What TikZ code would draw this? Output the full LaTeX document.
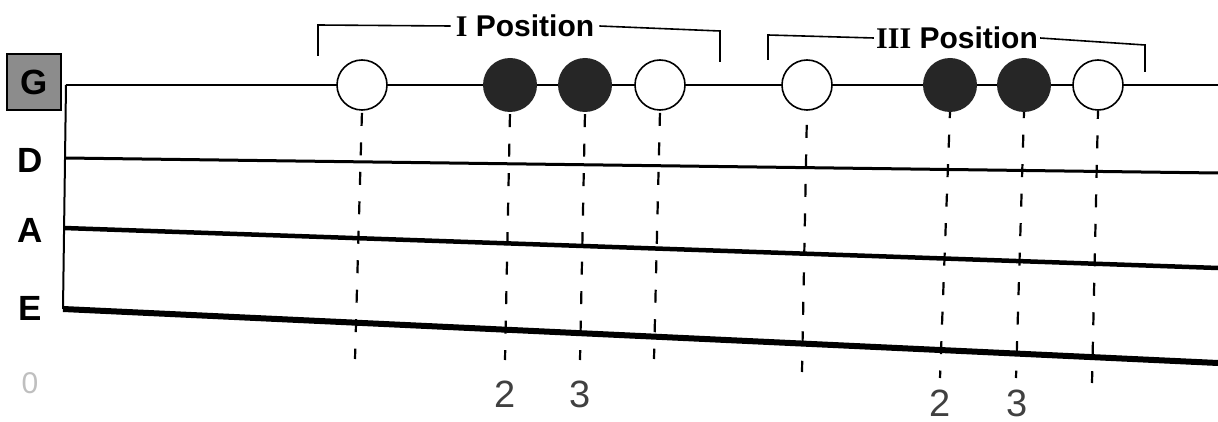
\documentclass[tikz,border=0pt]{standalone}
\usepackage{fontspec}
\setmainfont{Liberation Sans}
\newfontfamily\romfont{Liberation Serif}
\begin{document}
\begin{tikzpicture}[x=1pt,y=-1pt,
  opennote/.style={circle,draw,line width=1.6pt,fill=white,minimum size=50pt,inner sep=0pt},
  fillnote/.style={circle,fill=black!85,minimum size=54pt,inner sep=0pt},
  dashline/.style={line width=2.2pt,dash pattern=on 13pt off 16.5pt,dash phase=#1},
  strlabel/.style={font=\bfseries\fontsize{35}{35}\selectfont,inner sep=0pt},
  fingernum/.style={font=\fontsize{38}{38}\selectfont,text=black!75,inner sep=0pt},
  bracketline/.style={line width=1.6pt},
  postitle/.style={font=\bfseries\fontsize{30}{30}\selectfont,fill=white,inner sep=5pt}]
\useasboundingbox (0,0) rectangle (1218,422);
% strings
\coordinate (G0) at (66,85);   \coordinate (G1) at (1218,85);
\coordinate (D0) at (65,158);  \coordinate (D1) at (1218,173);
\coordinate (A0) at (64,228);  \coordinate (A1) at (1218,268);
\coordinate (E0) at (63,309);  \coordinate (E1) at (1218,363);
\draw[line width=2pt] (G0) -- (G1);
\draw[line width=2pt] (G0) -- (E0);
\draw[line width=3pt] (D0) -- (D1);
\draw[line width=4.5pt] (A0) -- (A1);
\draw[line width=6pt] (E0) -- (E1);
% string labels
\node[draw,line width=2pt,fill=black!45,minimum width=54pt,minimum height=56pt,inner sep=0pt,font=\bfseries\fontsize{35}{35}\selectfont] (lG) at (34,82) {G};
\node[strlabel] (lD) at (30,160) {D};
\node[strlabel] (lA) at (30,230) {A};
\node[strlabel] (lE) at (30,308) {E};
\node[font=\fontsize{30}{30}\selectfont,text=black!25,inner sep=0pt] (l0) at (30,383) {0};
% dashed line end points
\coordinate (e1) at (355,359); \coordinate (e2) at (505,360);
\coordinate (e3) at (580,360); \coordinate (e4) at (654,359);
\coordinate (e5) at (802,372); \coordinate (e6) at (940,378);
\coordinate (e7) at (1016,378); \coordinate (e8) at (1092,383);
% notes
\node[opennote] (n1) at (362,85) {};
\node[fillnote] (n2) at (510,85) {};
\node[fillnote] (n3) at (585,85) {};
\node[opennote] (n4) at (660,85) {};
\node[opennote] (n5) at (807,85) {};
\node[fillnote] (n6) at (950,85) {};
\node[fillnote] (n7) at (1024,85) {};
\node[opennote] (n8) at (1098,85) {};
\foreach \i/\ph in {1/27.5pt,2/27.5pt,3/27.5pt,4/27.5pt,5/15.5pt,6/7pt,7/7pt,8/5pt}
  {\draw[dashline=\ph] (n\i.south) -- (e\i);}
% finger numbers
\node[fingernum] (f1) at (505,394) {2};
\node[fingernum] (f2) at (580,394) {3};
\node[fingernum] (f3) at (940,403) {2};
\node[fingernum] (f4) at (1017,403) {3};
% position brackets
\node[postitle] (t1) at (525,26) {{\romfont I} Position};
\coordinate (b1a) at (318,56); \coordinate (b1b) at (318,25);
\coordinate (b1c) at (720,31); \coordinate (b1d) at (720,62);
\draw[bracketline] (b1a) -- (b1b) -- (t1.west);
\draw[bracketline] (t1.east) -- (b1c) -- (b1d);
\node[postitle,inner sep=2pt] (t2) at (957,38) {{\romfont III} Position};
\coordinate (b2a) at (768,60); \coordinate (b2b) at (768,35);
\coordinate (b2c) at (1145,45); \coordinate (b2d) at (1145,72);
\draw[bracketline] (b2a) -- (b2b) -- (t2.west);
\draw[bracketline] (t2.east) -- (b2c) -- (b2d);
\end{tikzpicture}
\end{document}
